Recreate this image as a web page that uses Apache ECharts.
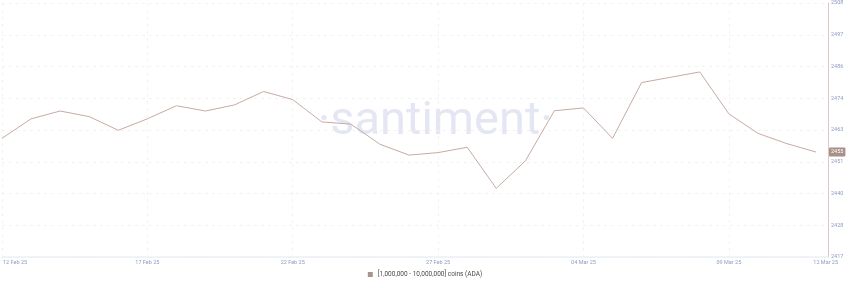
<!DOCTYPE html>
<html>
<head>
<meta charset="utf-8">
<script src="https://cdn.jsdelivr.net/npm/echarts@6/dist/echarts.min.js"></script>
<style>html,body{margin:0;padding:0;background:#fff;}#c{width:850px;height:288px;}</style>
</head>
<body>
<div id="c"></div>
<script>
const dates = ['12 Feb 25','13 Feb 25','14 Feb 25','15 Feb 25','16 Feb 25','17 Feb 25','18 Feb 25','19 Feb 25','20 Feb 25','21 Feb 25','22 Feb 25','23 Feb 25','24 Feb 25','25 Feb 25','26 Feb 25','27 Feb 25','28 Feb 25','01 Mar 25','02 Mar 25','03 Mar 25','04 Mar 25','05 Mar 25','06 Mar 25','07 Mar 25','08 Mar 25','09 Mar 25','10 Mar 25','11 Mar 25','12 Mar 25'];
const holders = [2459.5, 2466.5, 2469.3, 2467.3, 2462.4, 2466.5, 2471.2, 2469.3, 2471.5, 2476.3, 2473.4, 2465.4, 2464.6, 2457.4, 2453.5, 2454.4, 2456.3, 2441.6, 2451.4, 2469.4, 2470.4, 2459.5, 2479.5, 2481.4, 2483.3, 2468.3, 2461.3, 2457.6, 2454.6];
const yTickLabels = ['2417','2428','2440','2451','2463','2474','2486','2497','2508'];
const xLabelPositions = [0.45, 5, 10, 15, 20, 25, 28.33];
const seriesName = '[1,000,000 - 10,000,000] coins (ADA)';

const yMin = 2417, yMax = 2508, yStep = (2508 - 2417) / 8;

const chart = echarts.init(document.getElementById('c'), null, {renderer: 'canvas'});
chart.setOption({
  animation: false,
  backgroundColor: '#fff',
  grid: {left: 0, right: 22, top: 3, bottom: 31, containLabel: false},
  graphic: [{
    type: 'text', z: 0, silent: true,
    left: 318, top: 99,
    style: {text: '·santiment·', font: '400 47px Roboto', fill: '#e4e7f3'}
  }],
  legend: {
    bottom: 5, left: 'center',
    icon: 'rect', itemWidth: 5, itemHeight: 5, itemGap: 8,
    textStyle: {fontSize: 6.5, color: '#4a4a4a', fontFamily: 'Roboto'},
    data: [{name: seriesName, itemStyle: {color: '#a8958f'}}]
  },
  xAxis: {
    type: 'value', min: 0, max: 28.41, interval: 5,
    axisLine: {show: true, onZero: false, lineStyle: {color: '#eceff5', width: 1.5}},
    axisTick: {show: false},
    splitLine: {show: true, lineStyle: {color: '#efefef', type: [3, 4], width: 0.8}},
    axisLabel: {
      customValues: xLabelPositions,
      fontSize: 5.5, color: '#8f9bc4', margin: 3, fontFamily: 'Roboto',
      formatter: v => dates[Math.round(v)]
    }
  },
  yAxis: {
    type: 'value', position: 'right', min: yMin, max: yMax, interval: yStep,
    axisLine: {show: true, onZero: false, lineStyle: {color: '#dcc9c4', width: 1}},
    axisTick: {show: false},
    splitLine: {show: true, lineStyle: {color: '#efefef', type: [3, 4], width: 0.8}},
    axisLabel: {
      fontSize: 5.5, color: '#8f9bc4', margin: 3, fontFamily: 'Roboto',
      formatter: v => yTickLabels[Math.round((v - yMin) / yStep)]
    }
  },
  series: [{
    name: seriesName, type: 'line',
    data: holders.map((v, i) => [i, v]),
    showSymbol: false, symbol: 'none',
    lineStyle: {color: '#c7aaa3', width: 1},
    itemStyle: {color: '#c7aaa3'},
    z: 3,
    markLine: {
      silent: true, symbol: 'none',
      lineStyle: {color: 'transparent', width: 0},
      data: [{yAxis: holders[holders.length - 1]}],
      label: {
        position: 'end', distance: 1,
        formatter: p => String(Math.round(p.value)),
        backgroundColor: '#a88f88', color: '#fff',
        fontSize: 5.5, padding: [1.5, 2], borderRadius: 1, fontFamily: 'Roboto'
      }
    }
  }]
});
</script>
</body>
</html>
